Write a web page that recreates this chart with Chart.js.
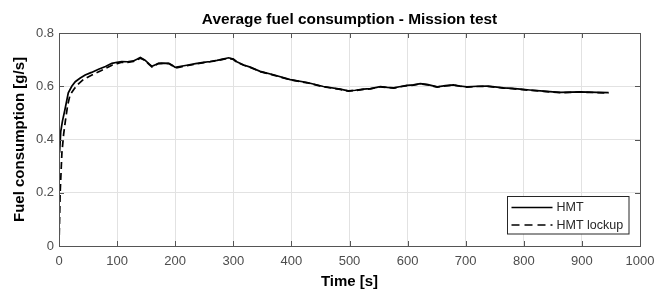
<!DOCTYPE html>
<html>
<head>
<meta charset="utf-8">
<script src="https://cdn.jsdelivr.net/npm/chart.js@4/dist/chart.umd.min.js"></script>
<style>
  body { margin: 0; background: #fff; }
  canvas { display: block; }
</style>
</head>
<body>
<canvas id="fuelChart" width="654" height="291"></canvas>
<script>
// values
const hmtTime = [1, 3, 6, 10, 16, 22, 28, 36, 45, 56, 68, 80, 91, 100, 108, 118, 128, 135, 140, 148, 155, 160, 166, 171, 180, 189, 195, 200, 210, 220, 235, 249, 260, 272, 282, 292, 300, 306, 318, 329, 346, 369, 398, 427, 455, 484, 498, 510, 524, 536, 547, 553, 565, 576, 588, 599, 610, 622, 635, 651, 665, 679, 690, 702, 720, 737, 750, 765, 780, 794, 810, 834, 850, 863, 880, 897, 912, 926, 946]
const hmtFuel = [0.35, 0.43, 0.47, 0.51, 0.575, 0.6, 0.617, 0.63, 0.642, 0.652, 0.664, 0.674, 0.686, 0.69, 0.693, 0.692, 0.695, 0.702, 0.708, 0.698, 0.684, 0.675, 0.681, 0.686, 0.687, 0.686, 0.679, 0.671, 0.675, 0.679, 0.685, 0.69, 0.693, 0.697, 0.702, 0.707, 0.702, 0.692, 0.68, 0.672, 0.656, 0.643, 0.625, 0.614, 0.599, 0.589, 0.583, 0.585, 0.589, 0.591, 0.596, 0.599, 0.596, 0.594, 0.599, 0.603, 0.605, 0.61, 0.606, 0.598, 0.602, 0.605, 0.601, 0.598, 0.6, 0.601, 0.598, 0.594, 0.592, 0.589, 0.586, 0.582, 0.579, 0.577, 0.578, 0.579, 0.578, 0.577, 0.576]

const lockupTime = [0, 2, 5, 8, 11, 15, 19, 26, 34, 42, 51, 62, 72, 80, 92, 100, 108, 118, 128, 135, 140, 148, 155, 160, 166, 171, 180, 189, 195, 200, 210, 220, 235, 249, 260, 272, 282, 292, 300, 306, 318, 329, 346, 369, 398, 427, 455, 484, 498, 510, 524, 536, 547, 553, 565, 576, 588, 599, 610, 622, 635, 651, 665, 679, 690, 702, 720, 737, 750, 765, 780, 794, 810, 834, 850, 863, 880, 897, 912, 926, 946]
const lockupFuel = [0, 0.2, 0.35, 0.42, 0.47, 0.53, 0.567, 0.59, 0.61, 0.625, 0.636, 0.648, 0.658, 0.667, 0.68, 0.685, 0.69, 0.69, 0.693, 0.7, 0.705, 0.697, 0.682, 0.672, 0.679, 0.685, 0.686, 0.685, 0.677, 0.668, 0.673, 0.677, 0.683, 0.689, 0.692, 0.696, 0.701, 0.705, 0.701, 0.69, 0.679, 0.671, 0.655, 0.642, 0.624, 0.613, 0.598, 0.588, 0.582, 0.584, 0.588, 0.59, 0.595, 0.598, 0.595, 0.593, 0.598, 0.602, 0.604, 0.609, 0.605, 0.597, 0.601, 0.604, 0.6, 0.597, 0.599, 0.6, 0.597, 0.593, 0.591, 0.588, 0.585, 0.581, 0.578, 0.576, 0.577, 0.578, 0.577, 0.576, 0.575]

const xTicks = [0, 100, 200, 300, 400, 500, 600, 700, 800, 900, 1000]
const yTicks = [0, 0.2, 0.4, 0.6, 0.8]

const FONT = 'Arial, "Liberation Sans", Helvetica, sans-serif'
const axisColor = '#555555'
const textColor = '#262626'

const toPoints = (xs, ys) => xs.map((x, i) => ({ x: x, y: ys[i] }))

// matlab style frame: inward ticks on all four sides, title, legend inside box
const matlabFrame = {
    id: 'matlabFrame',
    afterDraw(chart) {
        const ctx = chart.ctx
        const area = chart.chartArea
        const xs = chart.scales.x
        const ys = chart.scales.y
        ctx.save()

        ctx.strokeStyle = axisColor
        ctx.lineWidth = 1
        ctx.beginPath()
        for (const v of xTicks) {
            const px = Math.round(xs.getPixelForValue(v)) + 0.5
            ctx.moveTo(px, area.bottom)
            ctx.lineTo(px, area.bottom - 5)
            ctx.moveTo(px, area.top)
            ctx.lineTo(px, area.top + 5)
        }
        for (const v of yTicks) {
            const py = Math.round(ys.getPixelForValue(v)) + 0.5
            ctx.moveTo(area.left, py)
            ctx.lineTo(area.left + 5, py)
            ctx.moveTo(area.right, py)
            ctx.lineTo(area.right - 5, py)
        }
        ctx.stroke()
        ctx.strokeRect(Math.round(area.left) + 0.5, Math.round(area.top) + 0.5,
            Math.round(area.right - area.left), Math.round(area.bottom - area.top))

        // title
        ctx.fillStyle = '#000'
        ctx.font = 'bold 15.4px ' + FONT
        ctx.textAlign = 'center'
        ctx.textBaseline = 'middle'
        ctx.fillText('Average fuel consumption - Mission test', (area.left + area.right) / 2, 20)

        // legend
        const bw = 121.5, bh = 37.5
        const bx = Math.round(area.right - 11.5 - bw) + 0.5
        const by = Math.round(area.bottom - 12.5 - bh) + 0.5
        ctx.fillStyle = '#fff'
        ctx.fillRect(bx, by, bw, bh)
        ctx.strokeStyle = textColor
        ctx.strokeRect(bx, by, bw, bh)
        ctx.font = '12.5px ' + FONT
        ctx.textAlign = 'left'
        chart.data.datasets.forEach((ds, i) => {
            const ly = by + 11 + i * 17.5
            ctx.strokeStyle = ds.borderColor
            ctx.lineWidth = 1.3
            ctx.setLineDash(i === 1 ? [8, 5] : [])
            ctx.beginPath()
            ctx.moveTo(bx + 4, ly)
            ctx.lineTo(bx + 45, ly)
            ctx.stroke()
            ctx.setLineDash([])
            ctx.fillStyle = textColor
            ctx.fillText(ds.label, bx + 49, ly + 0.5)
        })
        ctx.restore()
    }
}

new Chart(document.getElementById('fuelChart'), {
    type: 'line',
    data: {
        datasets: [
            {
                label: 'HMT',
                data: toPoints(hmtTime, hmtFuel),
                borderColor: '#000000',
                borderWidth: 1.7,
                pointRadius: 0,
                tension: 0,
            },
            {
                label: 'HMT lockup',
                data: toPoints(lockupTime, lockupFuel),
                borderColor: '#000000',
                borderWidth: 1.7,
                borderDash: [7, 4],
                pointRadius: 0,
                tension: 0,
            },
        ],
    },
    options: {
        responsive: false,
        animation: false,
        devicePixelRatio: 1,
        layout: { padding: { top: 33, right: 14, bottom: 0, left: 0 } },
        plugins: {
            legend: { display: false },
            tooltip: { enabled: false },
        },
        scales: {
            x: {
                type: 'linear',
                min: 0,
                max: 1000,
                afterFit: (scale) => {
                    scale.height = 45
                    scale.paddingLeft = 0
                    scale.paddingRight = 0
                },
                afterBuildTicks: (scale) => { scale.ticks = xTicks.map(v => ({ value: v })) },
                grid: { color: '#e2e2e2', drawTicks: false },
                border: { display: false },
                ticks: {
                    padding: 8,
                    color: '#4d4d4d',
                    font: { family: FONT, size: 13 },
                    maxRotation: 0,
                    callback: (v) => String(v),
                },
                title: {
                    display: true,
                    text: 'Time [s]',
                    color: '#000',
                    font: { family: FONT, size: 15, weight: 'bold' },
                    padding: { top: 0, bottom: 0 },
                },
            },
            y: {
                type: 'linear',
                min: 0,
                max: 0.8,
                afterFit: (scale) => {
                    scale.width = 59
                    scale.paddingTop = 0
                    scale.paddingBottom = 0
                },
                afterBuildTicks: (scale) => { scale.ticks = yTicks.map(v => ({ value: v })) },
                grid: { color: '#e2e2e2', drawTicks: false },
                border: { display: false },
                ticks: {
                    padding: 5,
                    color: '#4d4d4d',
                    font: { family: FONT, size: 13 },
                    callback: (v) => String(v),
                },
                title: {
                    display: true,
                    text: 'Fuel consumption [g/s]',
                    color: '#000',
                    font: { family: FONT, size: 15, weight: 'bold' },
                    padding: { top: 11, bottom: 0 },
                },
            },
        },
    },
    plugins: [matlabFrame],
})
</script>
</body>
</html>
